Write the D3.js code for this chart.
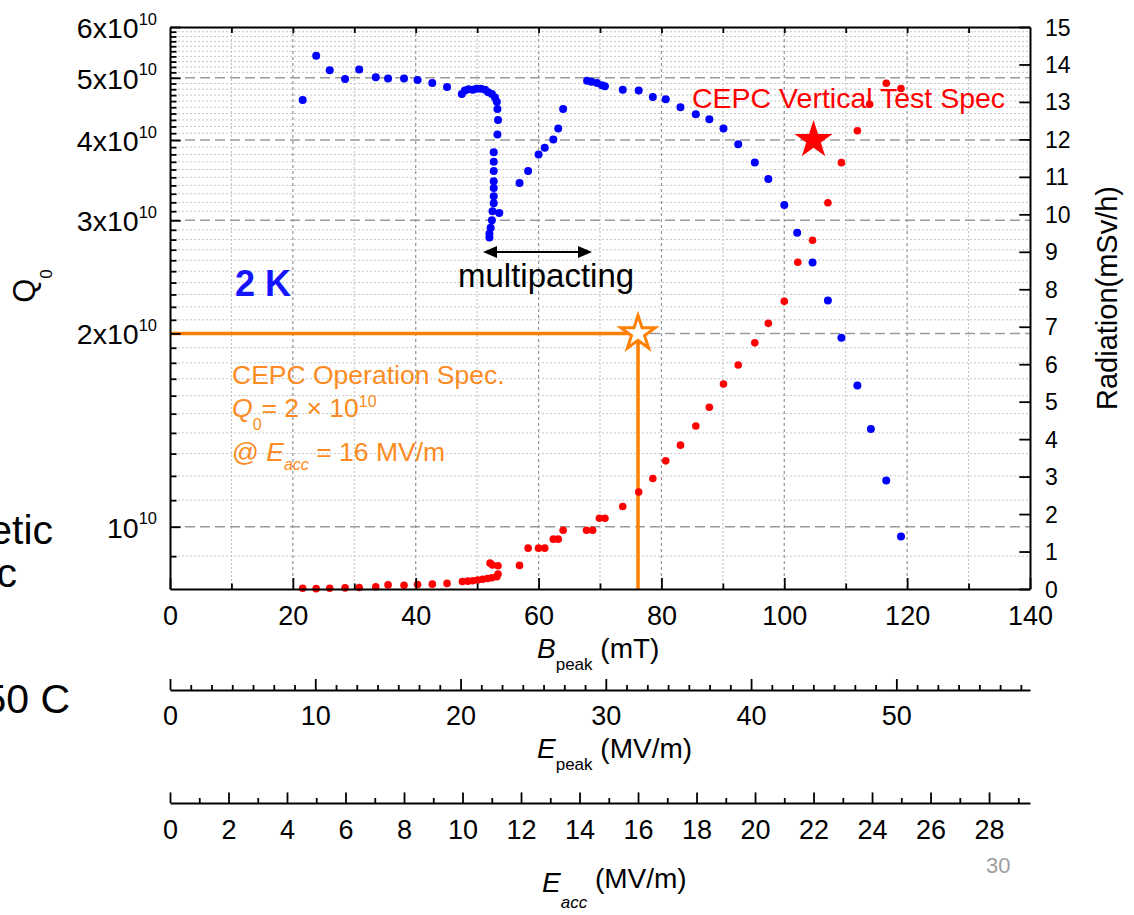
<!DOCTYPE html>
<html>
<head>
<meta charset="utf-8">
<script src="https://cdn.jsdelivr.net/npm/d3@7"></script>
<style>
  body { margin: 0; background: #fff; }
  svg { display: block; font-family: "Liberation Sans", Arial, sans-serif; }
</style>
</head>
<body>
<svg id="chart" width="1134" height="915"></svg>
<script>
// ---- data -------------------------------------------------------------
// Q0 at 2 K versus peak magnetic field B_peak (mT); Q0 in units of 1e10
const q0Bpeak = [21.6, 23.8, 26.0, 28.5, 30.8, 33.5, 35.5, 38.1, 40.3, 42.7, 45.1,
  47.5, 48.0, 48.6, 49.3, 49.9, 50.6, 51.3, 51.8, 52.4, 52.9, 53.2, 53.3, 53.4, 53.3,
  52.7, 52.7, 52.7, 52.7, 52.7, 52.7, 52.7, 52.5, 53.6, 52.4, 52.2, 52.0, 52.0,
  56.9, 58.3, 60.0, 61.0, 62.4, 63.2, 64.0,
  67.9, 68.6, 69.5, 70.3, 70.8, 73.7, 76.3, 78.6, 80.7, 83.1, 85.6, 87.8, 90.1,
  92.5, 95.2, 97.4, 100.0, 102.1, 104.6, 107.1, 109.3, 111.9, 114.1, 116.6, 119.0];
const q0Values = [4.62, 5.41, 5.14, 4.98, 5.15, 5.01, 4.99, 4.99, 4.96, 4.91, 4.84,
  4.72, 4.78, 4.80, 4.79, 4.81, 4.81, 4.79, 4.75, 4.72, 4.66, 4.59, 4.47, 4.30, 4.08,
  3.83, 3.70, 3.58, 3.45, 3.37, 3.27, 3.19, 3.10, 3.08, 3.00, 2.92, 2.86, 2.82,
  3.43, 3.58, 3.80, 3.89, 4.01, 4.17, 4.47,
  4.95, 4.93, 4.91, 4.87, 4.85, 4.79, 4.78, 4.67, 4.63, 4.50, 4.39, 4.31, 4.17,
  3.94, 3.69, 3.48, 3.17, 2.87, 2.58, 2.25, 1.97, 1.66, 1.42, 1.18, 0.966];

// Field-emission radiation (mSv/h) versus B_peak (mT)
const radBpeak = [21.6, 23.8, 26.0, 28.5, 30.8, 33.5, 35.5, 38.1, 40.3, 42.7, 45.1,
  47.6, 48.5, 49.3, 50.1, 50.9, 51.7, 52.4, 53.2, 53.4, 52.1, 52.5, 53.4,
  56.9, 58.3, 60.0, 61.0, 62.4, 63.2, 64.0, 67.8, 68.8, 69.9, 70.8, 73.7, 76.3,
  78.6, 80.7, 83.1, 85.6, 87.8, 90.1, 92.5, 95.2, 97.4, 100.0, 102.2, 104.6,
  107.1, 109.3, 111.9, 113.9, 116.6, 119.0];
const radValues = [0.02, 0.01, 0.02, 0.03, 0.04, 0.06, 0.11, 0.10, 0.12, 0.13, 0.15,
  0.20, 0.21, 0.22, 0.24, 0.26, 0.28, 0.30, 0.33, 0.40, 0.69, 0.64, 0.62,
  0.63, 1.09, 1.09, 1.09, 1.33, 1.33, 1.57, 1.57, 1.57, 1.89, 1.89, 2.20, 2.59,
  2.95, 3.42, 3.84, 4.35, 4.85, 5.47, 5.98, 6.57, 7.09, 7.68, 8.72, 9.31,
  10.31, 11.38, 12.23, 12.94, 13.50, 13.36];

// Specification points (E_acc in MV/m, Q0)
const opSpec = { eacc: 16, q0: 2e10 };
const vtSpec = { eacc: 22, q0: 4e10 };

// Tick values and labels
const bpeakTicks = [0, 20, 40, 60, 80, 100, 120, 140];
const q0TickValues = [1e10, 2e10, 3e10, 4e10, 5e10, 6e10];
const q0TickMantissa = ["", "2x", "3x", "4x", "5x", "6x"];
const radTicks = [0, 1, 2, 3, 4, 5, 6, 7, 8, 9, 10, 11, 12, 13, 14, 15];
const epeakTicks = [0, 10, 20, 30, 40, 50];
const eaccTicks = [0, 2, 4, 6, 8, 10, 12, 14, 16, 18, 20, 22, 24, 26, 28];

// ---- layout -----------------------------------------------------------
const L = 170, R = 1030, T = 27, B = 589;
const yEpeakAxis = 690, yEaccAxis = 803;
const BLUE = "#0000ff", RED = "#ff0000", ORANGE = "#ff8000", ORANGE_TXT = "#fb8b22";

const x = d3.scaleLinear().domain([0, 140]).range([L, R]);
const y = d3.scaleLog().domain([8e9, 6e10]).range([B, T]);
const yR = d3.scaleLinear().domain([0, 15]).range([B, T]);
const xEp = d3.scaleLinear().domain([0, 59.2]).range([L, R]);
const xEa = d3.scaleLinear().domain([0, 29.4]).range([L, R]);

const svg = d3.select("#chart");

// ---- grid -------------------------------------------------------------
const grid = svg.append("g");
const vGrid = d3.range(10, 140, 10);
grid.selectAll("line.vg").data(vGrid).join("line")
  .attr("x1", d => x(d)).attr("x2", d => x(d))
  .attr("y1", T).attr("y2", B)
  .attr("stroke", d => d % 20 === 0 ? "#9a9a9a" : "#bdbdbd")
  .attr("stroke-width", d => d % 20 === 0 ? 1.3 : 1)
  .attr("stroke-dasharray", d => d % 20 === 0 ? "3,3" : "2,2");

const minorQ = [9e9];
for (let d = 1; d <= 5; d++) for (let m = 1; m <= 9; m++) minorQ.push((d + m / 10) * 1e10);
grid.selectAll("line.hmin").data(minorQ).join("line")
  .attr("x1", L).attr("x2", R)
  .attr("y1", d => y(d)).attr("y2", d => y(d))
  .attr("stroke", "#c6c6c6").attr("stroke-width", 1).attr("stroke-dasharray", "2,2");
grid.selectAll("line.hmaj").data(q0TickValues.slice(0, 5)).join("line")
  .attr("x1", L).attr("x2", R)
  .attr("y1", d => y(d)).attr("y2", d => y(d))
  .attr("stroke", "#9a9a9a").attr("stroke-width", 1.5).attr("stroke-dasharray", "10,5");

// ---- operation spec guide lines ----------------------------------------
svg.append("line")
  .attr("x1", x(0)).attr("x2", xEa(opSpec.eacc))
  .attr("y1", y(opSpec.q0)).attr("y2", y(opSpec.q0))
  .attr("stroke", ORANGE).attr("stroke-width", 3.5);
svg.append("line")
  .attr("x1", xEa(opSpec.eacc)).attr("x2", xEa(opSpec.eacc))
  .attr("y1", y(opSpec.q0)).attr("y2", B)
  .attr("stroke", ORANGE).attr("stroke-width", 3.5);

// ---- annotations ------------------------------------------------------
svg.append("text").attr("x", 235).attr("y", 296)
  .attr("font-size", 36).attr("font-weight", "bold").attr("fill", "#1414ff").text("2 K");

svg.append("text").attr("x", 458).attr("y", 287)
  .attr("font-size", 33).attr("fill", "#000").text("multipacting");

// double-headed arrow spanning the multipacting band
const arrowY = 252, ax1 = 483, ax2 = 592;
svg.append("line").attr("x1", ax1 + 4).attr("x2", ax2 - 4)
  .attr("y1", arrowY).attr("y2", arrowY).attr("stroke", "#000").attr("stroke-width", 2);
svg.append("path").attr("d", `M${ax1},${arrowY} l14,-6 l0,12 z`).attr("fill", "#000");
svg.append("path").attr("d", `M${ax2},${arrowY} l-14,-6 l0,12 z`).attr("fill", "#000");

svg.append("text").attr("x", 692).attr("y", 108)
  .attr("font-size", 28.5).attr("fill", RED).text("CEPC Vertical Test Spec");

// operation spec text block
const op = svg.append("g").attr("fill", ORANGE_TXT).attr("font-size", 26.5);
op.append("text").attr("x", 232).attr("y", 383.5).text("CEPC Operation Spec.");
const l2 = op.append("text").attr("x", 232).attr("y", 417);
l2.append("tspan").attr("font-style", "italic").text("Q");
l2.append("tspan").attr("font-size", 16).attr("dy", 13).text("0");
l2.append("tspan").attr("dy", -13).text("= 2 × 10");
l2.append("tspan").attr("font-size", 16).attr("dy", -10).text("10");
const l3 = op.append("text").attr("x", 232).attr("y", 461);
l3.append("tspan").text("@ ");
l3.append("tspan").attr("font-style", "italic").text("E");
l3.append("tspan").attr("font-style", "italic").attr("font-size", 16).attr("dy", 9).text("acc");
l3.append("tspan").attr("dy", -9).text(" = 16 MV/m");

// ---- data -------------------------------------------------------------
svg.append("g").selectAll("circle")
  .data(radBpeak.map((b, i) => [b, radValues[i]]))
  .join("circle")
  .attr("cx", d => x(d[0])).attr("cy", d => yR(d[1]))
  .attr("r", 3.8).attr("fill", RED);

svg.append("g").selectAll("circle")
  .data(q0Bpeak.map((b, i) => [b, q0Values[i] * 1e10]))
  .join("circle")
  .attr("cx", d => x(d[0])).attr("cy", d => y(d[1]))
  .attr("r", 4).attr("fill", BLUE);

// spec stars
const starR = (r) => r * r / 0.8908130915292852;
svg.append("path")
  .attr("transform", `translate(${xEa(opSpec.eacc)},${y(opSpec.q0)})`)
  .attr("d", d3.symbol(d3.symbolStar, starR(18))())
  .attr("fill", "#fff").attr("stroke", ORANGE).attr("stroke-width", 3)
  .attr("stroke-linejoin", "miter");
svg.append("path")
  .attr("transform", `translate(${xEa(vtSpec.eacc)},${y(vtSpec.q0)})`)
  .attr("d", d3.symbol(d3.symbolStar, starR(20))())
  .attr("fill", RED);

// ---- axes -------------------------------------------------------------
function styleAxis(g, fs) {
  g.attr("font-family", null).attr("font-size", fs);
  g.select(".domain").attr("stroke", "#000").attr("stroke-width", 2);
  g.selectAll(".tick line").attr("stroke", "#000").attr("stroke-width", 1.8);
  g.selectAll(".tick text").attr("fill", "#000");
}

// bottom: B_peak
const gxMinor = svg.append("g").attr("transform", `translate(0,${B})`)
  .call(d3.axisBottom(x).tickValues(d3.range(10, 140, 20)).tickSizeInner(-5.5).tickSizeOuter(0).tickFormat(""));
styleAxis(gxMinor, 27); gxMinor.select(".domain").remove();
const gx = svg.append("g").attr("transform", `translate(0,${B})`)
  .call(d3.axisBottom(x).tickValues(bpeakTicks).tickSizeInner(-11).tickSizeOuter(0).tickFormat(d3.format("d")));
styleAxis(gx, 27);
gx.selectAll(".tick text").attr("y", 36).attr("dy", 0);

// top frame
const gTop = svg.append("g").attr("transform", `translate(0,${T})`)
  .call(d3.axisTop(x).tickValues(d3.range(10, 140, 10)).tickSizeInner(-6).tickSizeOuter(0).tickFormat(""));
styleAxis(gTop, 10);

// left: Q0 (log)
const gyMinor = svg.append("g").attr("transform", `translate(${L},0)`)
  .call(d3.axisLeft(y).tickValues(minorQ).tickSizeInner(-6.5).tickSizeOuter(0).tickFormat(""));
styleAxis(gyMinor, 28.5); gyMinor.select(".domain").remove();
const gy = svg.append("g").attr("transform", `translate(${L},0)`)
  .call(d3.axisLeft(y).tickValues(q0TickValues).tickSizeInner(-10.7).tickSizeOuter(0).tickFormat(""));
styleAxis(gy, 28.5);
gy.selectAll(".tick text").each(function (d, i) {
  const t = d3.select(this).attr("x", -13).attr("dy", 10.5).attr("text-anchor", "end");
  t.append("tspan").text(q0TickMantissa[i] + "10");
  t.append("tspan").attr("font-size", 16.5).attr("dy", -13.5).text("10");
});

// right: radiation
const gyR = svg.append("g").attr("transform", `translate(${R},0)`)
  .call(d3.axisRight(yR).tickValues(radTicks).tickSizeInner(-10.7).tickSizeOuter(0).tickFormat(d3.format("d")));
styleAxis(gyR, 23);
gyR.selectAll(".tick text").attr("x", 15).attr("dy", 8);

// E_peak axis
const gEpMinor = svg.append("g").attr("transform", `translate(0,${yEpeakAxis})`)
  .call(d3.axisBottom(xEp).tickValues(d3.range(1, 42).filter(i => i % 7 !== 0).map(i => i * 10 / 7))
    .tickSizeInner(-5).tickSizeOuter(0).tickFormat(""));
styleAxis(gEpMinor, 27); gEpMinor.select(".domain").remove();
const gEp = svg.append("g").attr("transform", `translate(0,${yEpeakAxis})`)
  .call(d3.axisBottom(xEp).tickValues(epeakTicks).tickSizeInner(-11).tickSizeOuter(0).tickFormat(d3.format("d")));
styleAxis(gEp, 27);
gEp.selectAll(".tick text").attr("y", 35).attr("dy", 0);

// E_acc axis
const gEaMinor = svg.append("g").attr("transform", `translate(0,${yEaccAxis})`)
  .call(d3.axisBottom(xEa).tickValues(d3.range(1, 30, 2)).tickSizeInner(-5).tickSizeOuter(0).tickFormat(""));
styleAxis(gEaMinor, 27); gEaMinor.select(".domain").remove();
const gEa = svg.append("g").attr("transform", `translate(0,${yEaccAxis})`)
  .call(d3.axisBottom(xEa).tickValues(eaccTicks).tickSizeInner(-10.6).tickSizeOuter(0).tickFormat(d3.format("d")));
styleAxis(gEa, 27);
gEa.selectAll(".tick text").attr("y", 36).attr("dy", 0);

// ---- axis titles ------------------------------------------------------
const qt = svg.append("text").attr("transform", "translate(35,286) rotate(-90)")
  .attr("text-anchor", "middle").attr("font-size", 31);
qt.append("tspan").text("Q");
qt.append("tspan").attr("font-size", 17).attr("dy", 17).text("0");

svg.append("text").attr("transform", "translate(1117,298) rotate(-90)")
  .attr("text-anchor", "middle").attr("font-size", 29).text("Radiation(mSv/h)");

function fieldTitle(xPos, yPos, sym, sub, unit, subDy, unitDy) {
  const t = svg.append("text").attr("x", xPos).attr("y", yPos).attr("font-size", 28);
  t.append("tspan").attr("font-style", "italic").text(sym);
  const s = t.append("tspan").attr("font-size", 17).attr("dy", subDy).text(sub);
  if (sub === "acc") s.attr("font-style", "italic");
  t.append("tspan").attr("dy", unitDy).text(" " + unit);
}
fieldTitle(537, 658, "B", "peak", "(mT)", 12, -12);
fieldTitle(537, 758, "E", "peak", "(MV/m)", 12, -12);
fieldTitle(542, 892, "E", "acc", "(MV/m)", 16, -20);

// ---- surrounding slide text (runs off the left edge of the slide crop) ----
svg.append("text").attr("x", 53).attr("y", 544).attr("text-anchor", "end").attr("font-size", 41).text("etic");
svg.append("text").attr("x", 17).attr("y", 587).attr("text-anchor", "end").attr("font-size", 41).text("c");
svg.append("text").attr("x", 70).attr("y", 713).attr("text-anchor", "end").attr("font-size", 41).text("50 C");
svg.append("text").attr("x", 986).attr("y", 873).attr("font-size", 22).attr("fill", "#a0a0a0").text("30");
</script>
</body>
</html>
